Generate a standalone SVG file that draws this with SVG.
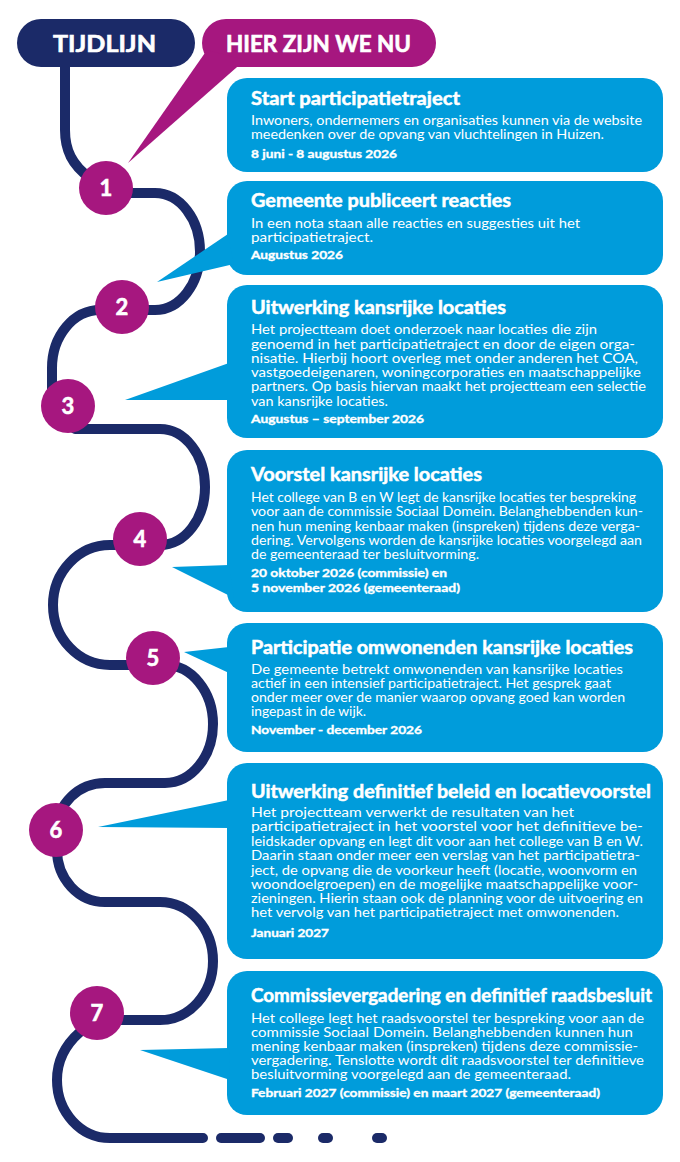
<svg xmlns="http://www.w3.org/2000/svg" width="680" height="1162" viewBox="0 0 680 1162">
<style>
.bg{fill:#ffffff}
.line{fill:none;stroke:#1b2a68;stroke-width:10;stroke-linecap:round;stroke-linejoin:round}
.box{fill:#009cdb}
.mag{fill:#a6177f}
.navy{fill:#1b2a68}
.t{font-family:Lato,"Open Sans","Liberation Sans",sans-serif;font-weight:700;font-size:18px;fill:#fff;stroke:#fff;stroke-width:0.5}
.b{font-family:Lato,"Open Sans","Liberation Sans",sans-serif;font-weight:400;font-size:13.5px;fill:#fff}
.d{font-family:Lato,"Open Sans","Liberation Sans",sans-serif;font-weight:700;font-size:12px;fill:#fff;stroke:#fff;stroke-width:0.35}
.n{font-family:Lato,"Open Sans","Liberation Sans",sans-serif;font-weight:700;font-size:22px;fill:#fff;stroke:#fff;stroke-width:0.6;text-anchor:middle}
.p{font-family:Lato,"Open Sans","Liberation Sans",sans-serif;font-weight:700;font-size:22px;fill:#fff;stroke:#fff;stroke-width:0.6}
</style>
<rect class="bg" x="0" y="0" width="680" height="1162"/>
<g id="connectors">
<path class="line" d="M65,60 V130 C65,150 72,165 90,178 L106,193 H155 A45 58.5 0 0 1 155,310 H100 A48 58 0 0 0 52,368 V406 L75,429 H160 A45 58 0 0 1 160,545 H110 A57 60 0 0 0 110,665 H165 A48 59 0 0 1 165,783 H105 A48 47 0 0 0 57,830 V850 A48 52 0 0 0 105,902 H160 A53 59 0 0 1 160,1020 H90 L80,1032 C64,1046 57,1062 57,1080 A53 58 0 0 0 110,1138 H203"/>
<line class="line" x1="221" y1="1138" x2="260" y2="1138"/>
<line class="line" x1="278" y1="1138" x2="288" y2="1138"/>
<line class="line" x1="323" y1="1138" x2="328" y2="1138"/>
<line class="line" x1="377" y1="1138" x2="382" y2="1138"/>
</g>
<g id="tijdlijn">
<rect class="navy" x="17" y="19" width="178" height="48" rx="24"/>
<text class="p" x="53" y="52" textLength="103" lengthAdjust="spacingAndGlyphs">TIJDLIJN</text>
</g>
<g id="hier">
<rect class="mag" x="202" y="19" width="234" height="48" rx="24"/>
<polygon class="mag" points="207,50 245,60 128,163"/>
<text class="p" x="226" y="52" textLength="185" lengthAdjust="spacingAndGlyphs">HIER ZIJN WE NU</text>
</g>
<g id="step1">
<rect class="box" x="227" y="78" width="436" height="94" rx="20"/>
<text class="t" x="251" y="105" textLength="209" lengthAdjust="spacingAndGlyphs">Start participatietraject</text>
<text class="b" x="251" y="125" textLength="391" lengthAdjust="spacingAndGlyphs">Inwoners, ondernemers en organisaties kunnen via de website</text>
<text class="b" x="251" y="139" textLength="353" lengthAdjust="spacingAndGlyphs">meedenken over de opvang van vluchtelingen in Huizen.</text>
<text class="d" x="251" y="158" textLength="146" lengthAdjust="spacingAndGlyphs">8 juni - 8 augustus 2026</text>
<circle class="mag" cx="106" cy="188" r="27"/>
<text class="n" x="106" y="196">1</text>
</g>
<g id="step2">
<rect class="box" x="227" y="181" width="436" height="94" rx="20"/>
<polygon class="box" points="228,234 157,282 234,264"/>
<text class="t" x="251" y="207" textLength="260" lengthAdjust="spacingAndGlyphs">Gemeente publiceert reacties</text>
<text class="b" x="251" y="228" textLength="329" lengthAdjust="spacingAndGlyphs">In een nota staan alle reacties en suggesties uit het</text>
<text class="b" x="251" y="242" textLength="122" lengthAdjust="spacingAndGlyphs">participatietraject.</text>
<text class="d" x="251" y="259" textLength="92" lengthAdjust="spacingAndGlyphs">Augustus 2026</text>
<circle class="mag" cx="122" cy="307" r="27"/>
<text class="n" x="122" y="315">2</text>
</g>
<g id="step3">
<rect class="box" x="227" y="285" width="436" height="153" rx="20"/>
<polygon class="box" points="229,363 125,400 229,400"/>
<text class="t" x="251" y="314" textLength="255" lengthAdjust="spacingAndGlyphs">Uitwerking kansrijke locaties</text>
<text class="b" x="251" y="334" textLength="346" lengthAdjust="spacingAndGlyphs">Het projectteam doet onderzoek naar locaties die zijn</text>
<text class="b" x="251" y="349" textLength="384" lengthAdjust="spacingAndGlyphs">genoemd in het participatietraject en door de eigen orga-</text>
<text class="b" x="251" y="363" textLength="387" lengthAdjust="spacingAndGlyphs">nisatie. Hierbij hoort overleg met onder anderen het COA,</text>
<text class="b" x="251" y="377" textLength="390" lengthAdjust="spacingAndGlyphs">vastgoedeigenaren, woningcorporaties en maatschappelijke</text>
<text class="b" x="251" y="391" textLength="395" lengthAdjust="spacingAndGlyphs">partners. Op basis hiervan maakt het projectteam een selectie</text>
<text class="b" x="251" y="406" textLength="137" lengthAdjust="spacingAndGlyphs">van kansrijke locaties.</text>
<text class="d" x="251" y="423" textLength="173" lengthAdjust="spacingAndGlyphs">Augustus – september 2026</text>
<circle class="mag" cx="68" cy="406" r="27"/>
<text class="n" x="68" y="414">3</text>
</g>
<g id="step4">
<rect class="box" x="227" y="450" width="436" height="162" rx="20"/>
<polygon class="box" points="229,565 172,567 234,598"/>
<text class="t" x="251" y="481" textLength="231" lengthAdjust="spacingAndGlyphs">Voorstel kansrijke locaties</text>
<text class="b" x="251" y="502" textLength="385" lengthAdjust="spacingAndGlyphs">Het college van B en W legt de kansrijke locaties ter bespreking</text>
<text class="b" x="251" y="516" textLength="392" lengthAdjust="spacingAndGlyphs">voor aan de commissie Sociaal Domein. Belanghebbenden kun-</text>
<text class="b" x="251" y="531" textLength="389" lengthAdjust="spacingAndGlyphs">nen hun mening kenbaar maken (inspreken) tijdens deze verga-</text>
<text class="b" x="251" y="545" textLength="391" lengthAdjust="spacingAndGlyphs">dering. Vervolgens worden de kansrijke locaties voorgelegd aan</text>
<text class="b" x="251" y="559" textLength="228" lengthAdjust="spacingAndGlyphs">de gemeenteraad ter besluitvorming.</text>
<text class="d" x="251" y="577" textLength="196" lengthAdjust="spacingAndGlyphs">20 oktober 2026 (commissie) en</text>
<text class="d" x="251" y="592" textLength="209" lengthAdjust="spacingAndGlyphs">5 november 2026 (gemeenteraad)</text>
<circle class="mag" cx="140" cy="539" r="27"/>
<text class="n" x="140" y="547">4</text>
</g>
<g id="step5">
<rect class="box" x="227" y="623" width="436" height="129" rx="20"/>
<polygon class="box" points="229,647 184,652 229,673"/>
<text class="t" x="251" y="654" textLength="382" lengthAdjust="spacingAndGlyphs">Participatie omwonenden kansrijke locaties</text>
<text class="b" x="251" y="674" textLength="372" lengthAdjust="spacingAndGlyphs">De gemeente betrekt omwonenden van kansrijke locaties</text>
<text class="b" x="251" y="688" textLength="360" lengthAdjust="spacingAndGlyphs">actief in een intensief participatietraject. Het gesprek gaat</text>
<text class="b" x="251" y="702" textLength="374" lengthAdjust="spacingAndGlyphs">onder meer over de manier waarop opvang goed kan worden</text>
<text class="b" x="251" y="716" textLength="115" lengthAdjust="spacingAndGlyphs">ingepast in de wijk.</text>
<text class="d" x="251" y="734" textLength="171" lengthAdjust="spacingAndGlyphs">November - december 2026</text>
<circle class="mag" cx="153" cy="658" r="27"/>
<text class="n" x="153" y="666">5</text>
</g>
<g id="step6">
<rect class="box" x="227" y="763" width="436" height="196" rx="20"/>
<polygon class="box" points="229,800 98,827 229,828"/>
<text class="t" x="251" y="798" textLength="400" lengthAdjust="spacingAndGlyphs">Uitwerking definitief beleid en locatievoorstel</text>
<text class="b" x="251" y="817" textLength="323" lengthAdjust="spacingAndGlyphs">Het projectteam verwerkt de resultaten van het</text>
<text class="b" x="251" y="831" textLength="392" lengthAdjust="spacingAndGlyphs">participatietraject in het voorstel voor het definitieve be-</text>
<text class="b" x="251" y="846" textLength="392" lengthAdjust="spacingAndGlyphs">leidskader opvang en legt dit voor aan het college van B en W.</text>
<text class="b" x="251" y="860" textLength="389" lengthAdjust="spacingAndGlyphs">Daarin staan onder meer een verslag van het participatietra-</text>
<text class="b" x="251" y="875" textLength="386" lengthAdjust="spacingAndGlyphs">ject, de opvang die de voorkeur heeft (locatie, woonvorm en</text>
<text class="b" x="251" y="889" textLength="387" lengthAdjust="spacingAndGlyphs">woondoelgroepen) en de mogelijke maatschappelijke voor-</text>
<text class="b" x="251" y="903" textLength="392" lengthAdjust="spacingAndGlyphs">zieningen. Hierin staan ook de planning voor de uitvoering en</text>
<text class="b" x="251" y="917" textLength="368" lengthAdjust="spacingAndGlyphs">het vervolg van het participatietraject met omwonenden.</text>
<text class="d" x="251" y="937" textLength="78" lengthAdjust="spacingAndGlyphs">Januari 2027</text>
<circle class="mag" cx="56" cy="830" r="27"/>
<text class="n" x="56" y="838">6</text>
</g>
<g id="step7">
<rect class="box" x="227" y="971" width="436" height="144" rx="20"/>
<polygon class="box" points="229,1048 140,1050 230,1080"/>
<text class="t" x="251" y="1002" textLength="401" lengthAdjust="spacingAndGlyphs">Commissievergadering en definitief raadsbesluit</text>
<text class="b" x="251" y="1023" textLength="393" lengthAdjust="spacingAndGlyphs">Het college legt het raadsvoorstel ter bespreking voor aan de</text>
<text class="b" x="251" y="1037" textLength="382" lengthAdjust="spacingAndGlyphs">commissie Sociaal Domein. Belanghebbenden kunnen hun</text>
<text class="b" x="251" y="1051" textLength="387" lengthAdjust="spacingAndGlyphs">mening kenbaar maken (inspreken) tijdens deze commissie-</text>
<text class="b" x="251" y="1065" textLength="393" lengthAdjust="spacingAndGlyphs">vergadering. Tenslotte wordt dit raadsvoorstel ter definitieve</text>
<text class="b" x="251" y="1079" textLength="320" lengthAdjust="spacingAndGlyphs">besluitvorming voorgelegd aan de gemeenteraad.</text>
<text class="d" x="251" y="1097" textLength="349" lengthAdjust="spacingAndGlyphs">Februari 2027 (commissie) en maart 2027 (gemeenteraad)</text>
<circle class="mag" cx="97" cy="1013" r="27"/>
<text class="n" x="97" y="1021">7</text>
</g>
</svg>
